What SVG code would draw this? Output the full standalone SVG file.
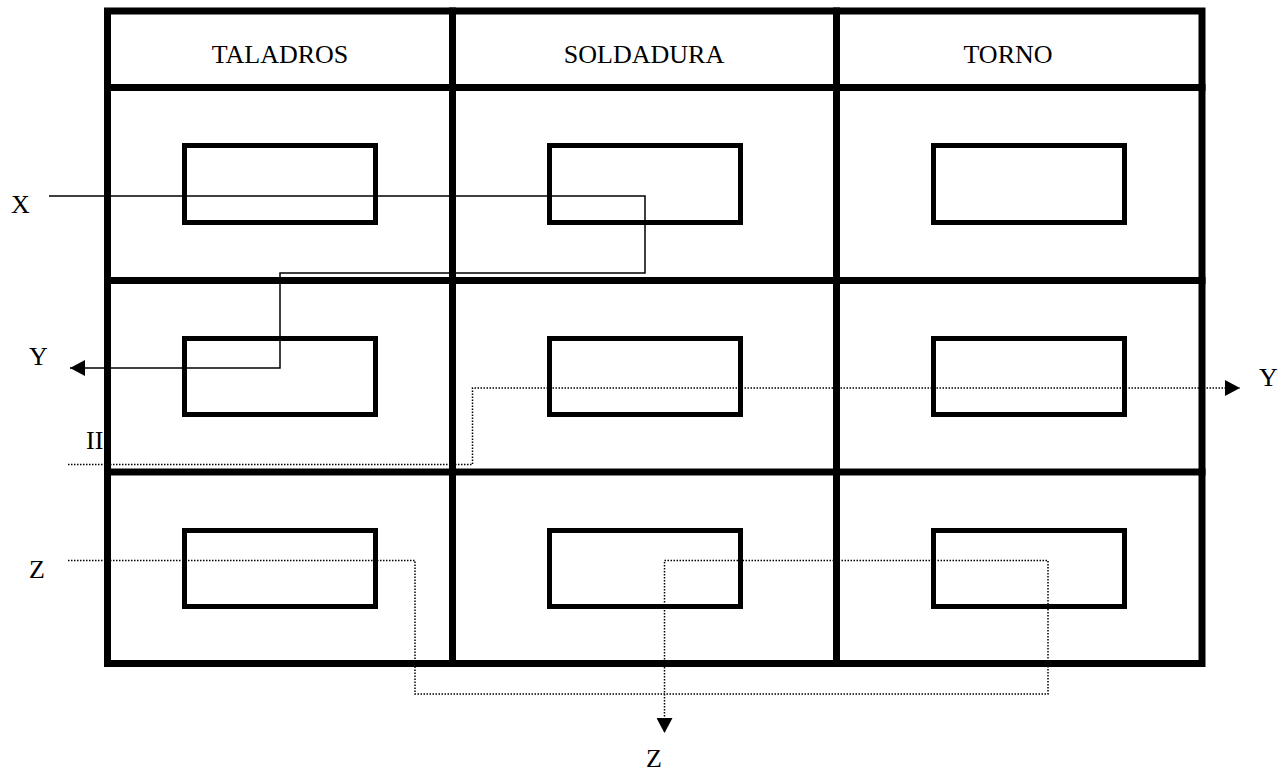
<svg xmlns="http://www.w3.org/2000/svg" width="1287" height="772" viewBox="0 0 1287 772">
  <style>
    .lbl { font-family: "Liberation Serif", "Times New Roman", serif; font-size: 26px; fill: #000; }
    .grid { fill: none; stroke: #000; stroke-width: 7; }
    .box { fill: none; stroke: #000; stroke-width: 5; }
    .solid { fill: none; stroke: #000; stroke-width: 1.5; }
    .dot { fill: none; stroke: #000; stroke-width: 1.5; stroke-dasharray: 1.5 1.5; }
  </style>
  <defs>
    <marker id="ah" markerWidth="16" markerHeight="16" refX="15" refY="8" orient="auto" markerUnits="userSpaceOnUse">
      <path d="M0,0 L15,8 L0,16 Z" fill="#000"/>
    </marker>
  </defs>
  <rect width="1287" height="772" fill="#fff"/>

  <g id="labels">
    <text class="lbl" x="11" y="213">X</text>
    <text class="lbl" x="29" y="365">Y</text>
    <text class="lbl" x="1259" y="386">Y</text>
    <text class="lbl" x="86" y="449">II</text>
    <text class="lbl" x="29" y="578">Z</text>
    <text class="lbl" x="646" y="767">Z</text>
  </g>

  <g id="grid">
    <rect class="grid" x="107.5" y="11" width="1094.5" height="652.5"/>
    <line class="grid" x1="104" y1="87.5" x2="1205.5" y2="87.5"/>
    <line class="grid" x1="104" y1="280.5" x2="1205.5" y2="280.5"/>
    <line class="grid" x1="104" y1="472" x2="1205.5" y2="472"/>
    <line class="grid" x1="452.5" y1="7.5" x2="452.5" y2="667"/>
    <line class="grid" x1="836.5" y1="7.5" x2="836.5" y2="667"/>
  </g>

  <g id="header-taladros"><text class="lbl" x="280" y="63" text-anchor="middle">TALADROS</text></g>
  <g id="header-soldadura"><text class="lbl" x="644" y="63" text-anchor="middle">SOLDADURA</text></g>
  <g id="header-torno"><text class="lbl" x="1008" y="63" text-anchor="middle">TORNO</text></g>

  <g id="cell-taladros-1"><rect class="box" x="184.5" y="145.5" width="191" height="77"/></g>
  <g id="cell-soldadura-1"><rect class="box" x="549.5" y="145.5" width="191" height="77"/></g>
  <g id="cell-torno-1"><rect class="box" x="933.5" y="145.5" width="191" height="77"/></g>
  <g id="cell-taladros-2"><rect class="box" x="184.5" y="338.5" width="191" height="76"/></g>
  <g id="cell-soldadura-2"><rect class="box" x="549.5" y="338.5" width="191" height="76"/></g>
  <g id="cell-torno-2"><rect class="box" x="933.5" y="338.5" width="191" height="76"/></g>
  <g id="cell-taladros-3"><rect class="box" x="184.5" y="530.5" width="191" height="76"/></g>
  <g id="cell-soldadura-3"><rect class="box" x="549.5" y="530.5" width="191" height="76"/></g>
  <g id="cell-torno-3"><rect class="box" x="933.5" y="530.5" width="191" height="76"/></g>

  <g id="connectors">
    <path class="solid" d="M49,196 H645 V273 H280 V368 H70" marker-end="url(#ah)"/>
    <path class="dot" d="M68,464.5 H472.5 V388 H1240" marker-end="url(#ah)"/>
    <path class="dot" d="M68,560.5 H415 V694 H1048 V560.5 H664.5 V733" marker-end="url(#ah)"/>
  </g>
</svg>
